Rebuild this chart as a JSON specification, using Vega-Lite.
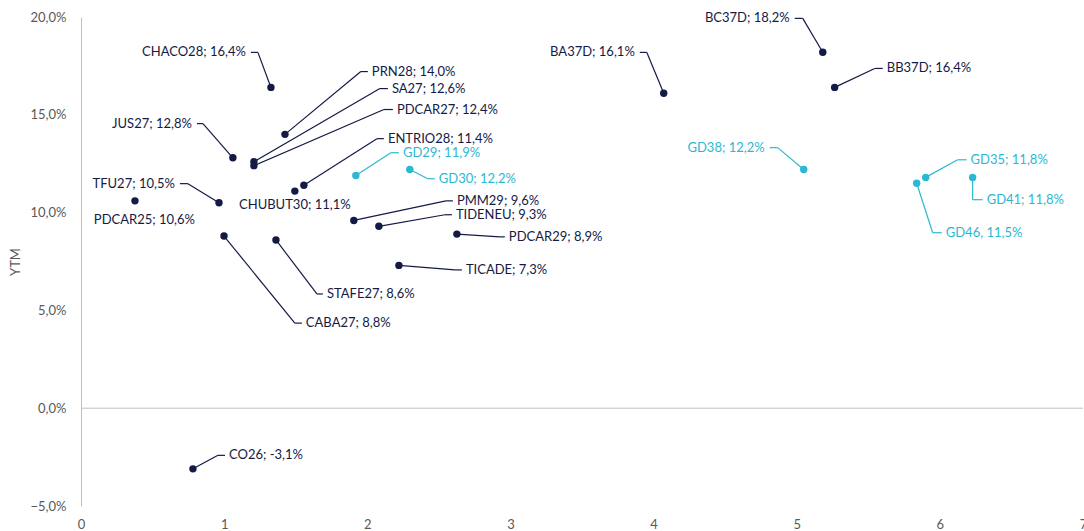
{
  "$schema": "https://vega.github.io/schema/vega-lite/v6.json",
  "width": 1002,
  "height": 489,
  "autosize": {"type": "none"},
  "padding": {"left": 81, "top": 17, "right": 1, "bottom": 25},
  "background": "white",
  "config": {"view": {"stroke": null}, "font": "Lato"},
  "data": {
    "values": [
      {"name": "CHACO28", "dur": 1.327, "ytm": 16.4, "grp": "navy", "ex": 1.236, "ey": 18.19, "lx": 1.187, "ly": 18.19, "label": "CHACO28; 16,4%"},
      {"name": "PRN28", "dur": 1.425, "ytm": 14.0, "grp": "navy", "ex": 1.955, "ey": 17.21, "lx": 2.004, "ly": 17.21, "label": "PRN28; 14,0%"},
      {"name": "SA27", "dur": 1.208, "ytm": 12.6, "grp": "navy", "ex": 2.088, "ey": 16.34, "lx": 2.144, "ly": 16.34, "label": "SA27; 12,6%"},
      {"name": "PDCAR27", "dur": 1.208, "ytm": 12.4, "grp": "navy", "ex": 2.116, "ey": 15.27, "lx": 2.179, "ly": 15.27, "label": "PDCAR27; 12,4%"},
      {"name": "JUS27", "dur": 1.061, "ytm": 12.8, "grp": "navy", "ex": 0.852, "ey": 14.55, "lx": 0.81, "ly": 14.55, "label": "JUS27; 12,8%"},
      {"name": "ENTRIO28", "dur": 1.557, "ytm": 11.4, "grp": "navy", "ex": 2.067, "ey": 13.78, "lx": 2.116, "ly": 13.78, "label": "ENTRIO28; 11,4%"},
      {"name": "GD29", "dur": 1.92, "ytm": 11.9, "grp": "cyan", "ex": 2.165, "ey": 13.06, "lx": 2.221, "ly": 13.06, "label": "GD29; 11,9%"},
      {"name": "GD30", "dur": 2.297, "ytm": 12.2, "grp": "cyan", "ex": 2.423, "ey": 11.73, "lx": 2.472, "ly": 11.73, "label": "GD30; 12,2%"},
      {"name": "TFU27", "dur": 0.964, "ytm": 10.5, "grp": "navy", "ex": 0.747, "ey": 11.48, "lx": 0.691, "ly": 11.48, "label": "TFU27; 10,5%"},
      {"name": "PDCAR25", "dur": 0.377, "ytm": 10.6, "grp": "navy", "ex": null, "ey": null, "lx": 0.443, "ly": 9.63, "label": "PDCAR25; 10,6%"},
      {"name": "CHUBUT30", "dur": 1.494, "ytm": 11.1, "grp": "navy", "ex": null, "ey": null, "lx": 1.494, "ly": 10.4, "label": "CHUBUT30; 11,1%"},
      {"name": "PMM29", "dur": 1.906, "ytm": 9.6, "grp": "navy", "ex": 2.549, "ey": 10.6, "lx": 2.598, "ly": 10.6, "label": "PMM29;  9,6%"},
      {"name": "TIDENEU", "dur": 2.081, "ytm": 9.3, "grp": "navy", "ex": 2.542, "ey": 9.89, "lx": 2.591, "ly": 9.89, "label": "TIDENEU; 9,3%"},
      {"name": "PDCAR29", "dur": 2.626, "ytm": 8.9, "grp": "navy", "ex": 2.926, "ey": 8.76, "lx": 2.961, "ly": 8.76, "label": "PDCAR29; 8,9%"},
      {"name": "TICADE", "dur": 2.221, "ytm": 7.3, "grp": "navy", "ex": 2.612, "ey": 7.07, "lx": 2.661, "ly": 7.07, "label": "TICADE; 7,3%"},
      {"name": "STAFE27", "dur": 1.362, "ytm": 8.6, "grp": "navy", "ex": 1.648, "ey": 5.84, "lx": 1.69, "ly": 5.84, "label": "STAFE27; 8,6%"},
      {"name": "CABA27", "dur": 0.999, "ytm": 8.8, "grp": "navy", "ex": 1.494, "ey": 4.35, "lx": 1.543, "ly": 4.35, "label": "CABA27; 8,8%"},
      {"name": "CO26", "dur": 0.782, "ytm": -3.1, "grp": "navy", "ex": 0.957, "ey": -2.41, "lx": 1.006, "ly": -2.41, "label": "CO26; -3,1%"},
      {"name": "BA37D", "dur": 4.071, "ytm": 16.1, "grp": "navy", "ex": 3.953, "ey": 18.19, "lx": 3.904, "ly": 18.19, "label": "BA37D; 16,1%"},
      {"name": "BC37D", "dur": 5.182, "ytm": 18.2, "grp": "navy", "ex": 5.042, "ey": 19.93, "lx": 4.986, "ly": 19.93, "label": "BC37D; 18,2%"},
      {"name": "BB37D", "dur": 5.265, "ytm": 16.4, "grp": "navy", "ex": 5.545, "ey": 17.37, "lx": 5.601, "ly": 17.37, "label": "BB37D; 16,4%"},
      {"name": "GD38", "dur": 5.049, "ytm": 12.2, "grp": "cyan", "ex": 4.867, "ey": 13.32, "lx": 4.811, "ly": 13.32, "label": "GD38; 12,2%"},
      {"name": "GD35", "dur": 5.901, "ytm": 11.8, "grp": "cyan", "ex": 6.124, "ey": 12.7, "lx": 6.187, "ly": 12.7, "label": "GD35; 11,8%"},
      {"name": "GD41", "dur": 6.229, "ytm": 11.8, "grp": "cyan", "ex": 6.229, "ey": 10.66, "lx": 6.299, "ly": 10.66, "label": "GD41; 11,8%"},
      {"name": "GD46", "dur": 5.838, "ytm": 11.5, "grp": "cyan", "ex": 5.95, "ey": 8.97, "lx": 6.013, "ly": 8.97, "label": "GD46, 11,5%"}
    ]
  },
  "layer": [
    {
      "data": {"values": [{"z": 0}]},
      "mark": {"type": "rule", "color": "#bfbfbf", "strokeWidth": 1},
      "encoding": {"y": {"field": "z", "type": "quantitative"}}
    },
    {
      "transform": [{"filter": "isValid(datum.ex)"}],
      "mark": {"type": "rule", "strokeWidth": 1.2},
      "encoding": {
        "x": {"field": "dur", "type": "quantitative"},
        "y": {"field": "ytm", "type": "quantitative"},
        "x2": {"field": "ex"},
        "y2": {"field": "ey"},
        "color": {"field": "grp", "type": "nominal", "scale": {"domain": ["navy", "cyan"], "range": ["#141a45", "#2bb8d2"]}, "legend": null}
      }
    },
    {
      "transform": [{"filter": "isValid(datum.ex)"}],
      "mark": {"type": "rule", "strokeWidth": 1.2},
      "encoding": {
        "x": {"field": "ex", "type": "quantitative"},
        "x2": {"field": "lx"},
        "y": {"field": "ey", "type": "quantitative"},
        "color": {"field": "grp", "type": "nominal", "legend": null}
      }
    },
    {
      "mark": {"type": "circle", "size": 55, "opacity": 1},
      "encoding": {
        "x": {
          "field": "dur", "type": "quantitative",
          "scale": {"domain": [0, 7], "nice": false, "zero": false},
          "axis": {"values": [0, 1, 2, 3, 4, 5, 6, 7], "format": "d", "domain": false, "ticks": false, "grid": false, "labelPadding": 12, "labelColor": "#595959", "labelFontSize": 13, "labelFont": "Lato", "title": null, "labelFlush": false}
        },
        "y": {
          "field": "ytm", "type": "quantitative",
          "scale": {"domain": [-5, 20], "nice": false, "zero": false},
          "axis": {"values": [-5, 0, 5, 10, 15, 20], "domain": true, "domainColor": "#bfbfbf", "ticks": false, "grid": false, "labelPadding": 15, "labelColor": "#595959", "labelFontSize": 13, "labelFont": "Lato", "labelExpr": "replace(format(datum.value, '.1f'), '.', ',') + '%'", "title": "YTM", "titleColor": "#595959", "titleFontSize": 13, "titleFontWeight": "normal", "titleFont": "Lato", "titlePadding": 8}
        },
        "color": {"field": "grp", "type": "nominal", "legend": null}
      }
    },
    {
      "transform": [{"filter": "isValid(datum.ex) && datum.lx >= datum.ex"}],
      "mark": {"type": "text", "align": "left", "baseline": "middle", "dx": 4, "fontSize": 13, "font": "Lato"},
      "encoding": {
        "x": {"field": "lx", "type": "quantitative"},
        "y": {"field": "ly", "type": "quantitative"},
        "text": {"field": "label"},
        "color": {"field": "grp", "type": "nominal", "legend": null}
      }
    },
    {
      "transform": [{"filter": "isValid(datum.ex) && datum.lx < datum.ex"}],
      "mark": {"type": "text", "align": "right", "baseline": "middle", "dx": -5, "fontSize": 13, "font": "Lato"},
      "encoding": {
        "x": {"field": "lx", "type": "quantitative"},
        "y": {"field": "ly", "type": "quantitative"},
        "text": {"field": "label"},
        "color": {"field": "grp", "type": "nominal", "legend": null}
      }
    },
    {
      "transform": [{"filter": "!isValid(datum.ex)"}],
      "mark": {"type": "text", "align": "center", "baseline": "middle", "fontSize": 13, "font": "Lato"},
      "encoding": {
        "x": {"field": "lx", "type": "quantitative"},
        "y": {"field": "ly", "type": "quantitative"},
        "text": {"field": "label"},
        "color": {"field": "grp", "type": "nominal", "legend": null}
      }
    }
  ]
}
